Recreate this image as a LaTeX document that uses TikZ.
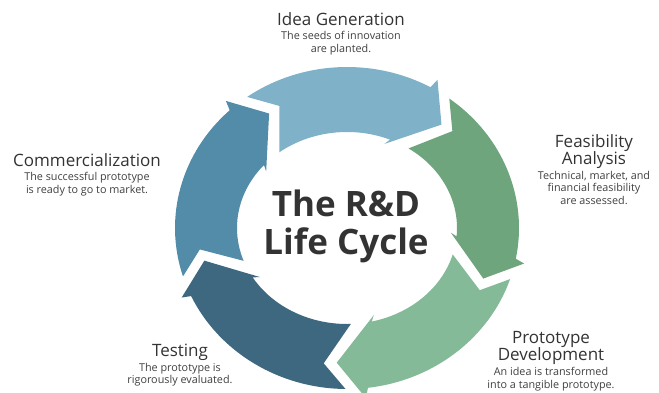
\documentclass[tikz,border=0pt]{standalone}
\usepackage{fontspec}
\setmainfont{Open Sans}
\usepackage{tikz}
\usetikzlibrary{positioning}

\definecolor{ideablue}{HTML}{7FB2C8}
\definecolor{feasgreen}{HTML}{6EA57D}
\definecolor{protogreen}{HTML}{84BA98}
\definecolor{testblue}{HTML}{3E6880}
\definecolor{commblue}{HTML}{528CA8}
\definecolor{headgray}{HTML}{333333}
\definecolor{descgray}{HTML}{3F3F3F}

\begin{document}
\begin{tikzpicture}[x=1pt,y=1pt,
    stagehead/.style={font=\fontsize{17}{17.5}\selectfont, text=headgray, inner sep=0pt, align=center, text depth=0pt, anchor=north},
    stagedesc/.style={font=\fontsize{10.8}{12.5}\selectfont, text=descgray, inner sep=0pt, align=center, anchor=north}]
    \useasboundingbox (0,0) rectangle (659,392);
    \coordinate (c) at (347,164);
    \foreach \tl/\col in {117/ideablue, 45/feasgreen, -27/protogreen, -99/testblue, -171/commblue}{
        \pgfmathsetmacro\hd{\tl-72}
        \fill[\col, shift={(c)}]
            ({\tl+8.5}:172 and 161)
            arc[start angle={\tl+8.5}, end angle={\hd+16}, x radius=172, y radius=161]
            -- ({\hd+15}:181 and 171)
            -- ({\hd+5}:147 and 135)
            -- ({\hd+24}:104 and 90)
            -- ({\hd+22}:110 and 96)
            arc[start angle={\hd+22}, end angle={\tl+11}, x radius=110, y radius=96]
            -- ({\tl}:149 and 137)
            -- cycle;
    }
    \node[font=\fontsize{35}{38}\selectfont\bfseries, text=headgray, align=center] (title) at (346,166) {The R\&D\\Life Cycle};
    \node[stagehead] (idea) at (341,380) {Idea Generation};
    \node[stagedesc, below=6pt of idea] (ideadesc) {The seeds of innovation\\are planted.};
    \node[stagehead] (feas) at (594,258) {Feasibility\\Analysis};
    \node[stagedesc, below=6pt of feas] (feasdesc) {Technical, market, and\\financial feasibility\\are assessed.};
    \node[stagehead] (proto) at (551,61) {Prototype\\Development};
    \node[stagedesc, below=6pt of proto] (protodesc) {An idea is transformed\\into a tangible prototype.};
    \node[stagehead] (test) at (180,48) {Testing};
    \node[stagedesc, below=6pt of test] (testdesc) {The prototype is\\rigorously evaluated.};
    \node[stagehead] (comm) at (87,239) {Commercialization};
    \node[stagedesc, below=6pt of comm] (commdesc) {The successful prototype\\is ready to go to market.};
\end{tikzpicture}
\end{document}
